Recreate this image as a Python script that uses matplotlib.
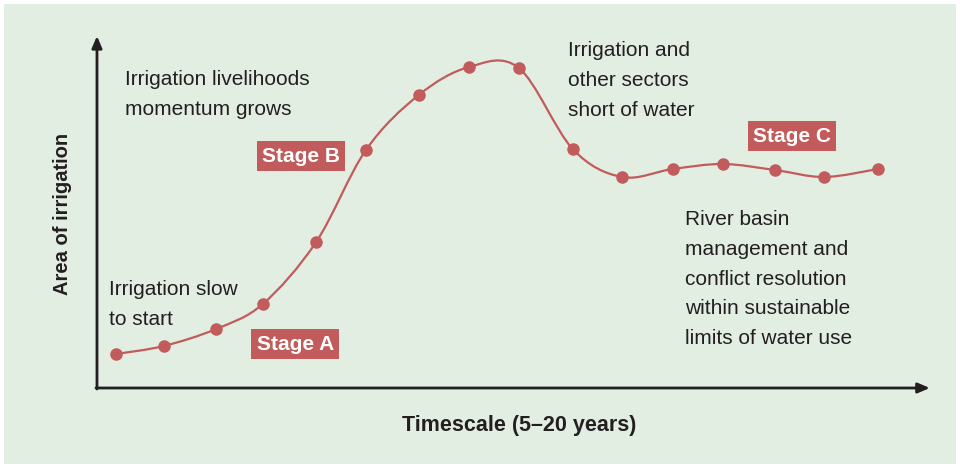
import matplotlib
matplotlib.use("Agg")
import matplotlib.pyplot as plt
from matplotlib.path import Path
from matplotlib.patches import PathPatch, Rectangle
from matplotlib import font_manager
import numpy as np

# time steps and (relative) area of irrigation
timestep = [0, 0.94, 1.97, 2.89, 3.94, 4.92, 5.96, 6.95, 7.93, 8.99,
            9.96, 10.96, 11.95, 12.97, 13.94, 15.0]
area = [34, 42, 59, 84, 146, 238, 293, 321, 320, 239, 211, 219, 224, 218, 211, 219]

stage_labels = ["Stage A", "Stage B", "Stage C"]
notes = [
    "Irrigation livelihoods\nmomentum grows",
    "Irrigation slow\nto start",
    "Irrigation and\nother sectors\nshort of water",
    "River basin\nmanagement and\nconflict resolution\nwithin sustainable\nlimits of water use",
]

RED = "#c25b5b"
INK = "#231f20"
PANEL = "#e2eee2"

names = {f.name for f in font_manager.fontManager.ttflist}
FONT = "Liberation Sans Narrow" if "Liberation Sans Narrow" in names else "Liberation Sans"
plt.rcParams["font.family"] = [FONT, "DejaVu Sans"]

fig = plt.figure(figsize=(9.6, 4.68), dpi=100)
ax = fig.add_axes([0, 0, 1, 1])
ax.set_xlim(-2.283, 16.614)
ax.set_ylim(-80, 388)
ax.axis("off")

# green panel (axes fill the figure)
ax.add_patch(Rectangle((4 / 960, 4 / 468), 952 / 960, 460 / 468,
                       transform=ax.transAxes, facecolor=PANEL,
                       edgecolor="none", zorder=0))

# smooth curve through the points (Catmull-Rom as cubic beziers)
x = np.array(timestep, dtype=float)
y = np.array(area, dtype=float)
pts = np.column_stack([x, y])
verts = [pts[0]]
codes = [Path.MOVETO]
for i in range(len(pts) - 1):
    p0 = pts[i - 1] if i > 0 else pts[i]
    p1 = pts[i]
    p2 = pts[i + 1]
    p3 = pts[i + 2] if i + 2 < len(pts) else pts[i + 1]
    c1 = p1 + (p2 - p0) / 6
    c2 = p2 - (p3 - p1) / 6
    verts += [c1, c2, p2]
    codes += [Path.CURVE4] * 3
ax.add_patch(PathPatch(Path(verts, codes), facecolor="none", edgecolor=RED,
                       lw=1.6, zorder=3))
ax.plot(x, y, "o", color=RED, markersize=8, zorder=4)

# axes with arrows
x0, y0 = -0.374, 0
ax.annotate("", xy=(x0, 352), xytext=(x0, y0 - 1),
            arrowprops=dict(arrowstyle="-|>,head_length=0.7,head_width=0.3",
                            color=INK, lw=2, shrinkA=0, shrinkB=0))
ax.annotate("", xy=(16.02, y0), xytext=(x0 - 0.02, y0),
            arrowprops=dict(arrowstyle="-|>,head_length=0.7,head_width=0.3",
                            color=INK, lw=2, shrinkA=0, shrinkB=0))

ax.text(-1.06, 174, "Area of irrigation", rotation=90, ha="center", va="center",
        fontsize=14.5, fontweight="bold", color=INK)
ax.text(7.93, -37, "Timescale (5\u201320 years)", ha="center", va="center",
        fontsize=15.5, fontweight="bold", color=INK)

# notes
note_pos = [(0.18, 318), (-0.14, 108), (8.9, 347), (11.2, 178)]
for txt, (tx, ty) in zip(notes, note_pos):
    ax.text(tx, ty, txt, ha="left", va="top", fontsize=15, color=INK,
            linespacing=1.72)

# stage boxes
stage_pos = [(3.53, 44), (3.64, 232), (13.31, 252)]
for lab, (sx, sy) in zip(stage_labels, stage_pos):
    ax.text(sx, sy, lab, ha="center", va="center", fontsize=15,
            fontweight="bold", color="white", zorder=5,
            bbox=dict(boxstyle="square,pad=0.25", facecolor=RED,
                      edgecolor="none"))

fig.savefig("out.png", dpi=100, facecolor="white")
